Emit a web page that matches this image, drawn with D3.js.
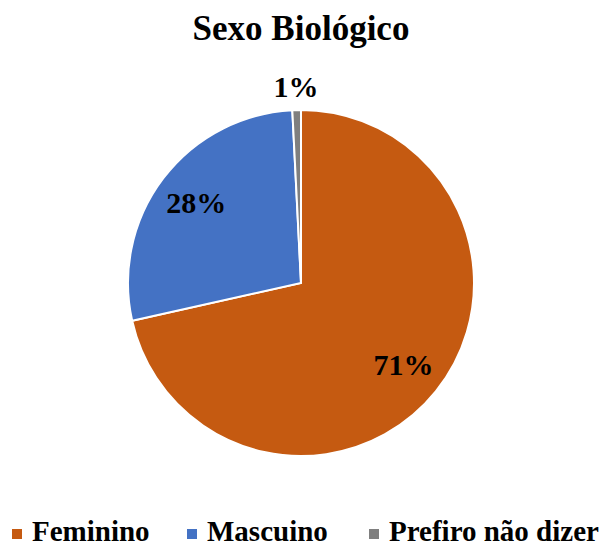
<!DOCTYPE html>
<html>
<head>
<meta charset="utf-8">
<script src="https://cdn.jsdelivr.net/npm/d3@7"></script>
<style>
  body { margin: 0; background: #fff; }
  text { font-family: "Liberation Serif", "Times New Roman", serif; font-weight: bold; }
</style>
</head>
<body>
<div class="box"></div>
<script>
const categorias = ['Feminino', 'Mascuino', 'Prefiro não dizer'];
const valores = [71.5, 27.7, 0.8];
const rotulos = ['71%', '28%', '1%'];
const cores = ['#C55A11', '#4472C4', '#7F7F7F'];

const dims = {width: 606, height: 547, radius: 173};

const svg = d3.select('.box')
              .append('svg')
              .attr('width', dims.width)
              .attr('height', dims.height);

svg.append('text')
   .attr('x', 301)
   .attr('y', 40)
   .attr('text-anchor', 'middle')
   .attr('font-size', 35)
   .text('Sexo Biológico');

const graph = svg.append('g')
                 .attr('transform', 'translate(301, 283)');

const pie = d3.pie()
              .sort(null)
              .value(d => d);

const arcPath = d3.arc()
                  .outerRadius(dims.radius)
                  .innerRadius(0);

const dados = pie(valores);

graph.selectAll('path')
     .data(dados)
     .enter()
     .append('path')
     .attr('d', arcPath)
     .attr('fill', (d, i) => cores[i])
     .attr('stroke', '#fff')
     .attr('stroke-width', 2);

// positions des labels
const labelArc = d3.arc().outerRadius(dims.radius * 0.76).innerRadius(dims.radius * 0.76);
const outerArc = d3.arc().outerRadius(dims.radius * 1.13).innerRadius(dims.radius * 1.13);

graph.selectAll('text.lbl')
     .data(dados)
     .enter()
     .append('text')
     .attr('class', 'lbl')
     .attr('transform', (d, i) => {
         const c = i === 2 ? outerArc.centroid(d) : labelArc.centroid(d);
         return `translate(${c})`;
     })
     .attr('text-anchor', 'middle')
     .attr('dy', '0.33em')
     .attr('font-size', 30)
     .text((d, i) => rotulos[i]);

// légende
const legX = [12, 187, 369];
const legende = svg.append('g')
                   .selectAll('g')
                   .data(categorias)
                   .enter()
                   .append('g')
                   .attr('transform', (d, i) => `translate(${legX[i]}, 541)`);

legende.append('rect')
       .attr('x', 0)
       .attr('y', -12)
       .attr('width', 10)
       .attr('height', 10)
       .attr('fill', (d, i) => cores[i]);

legende.append('text')
       .attr('x', 20)
       .attr('font-size', 29)
       .text(d => d);
</script>
</body>
</html>
